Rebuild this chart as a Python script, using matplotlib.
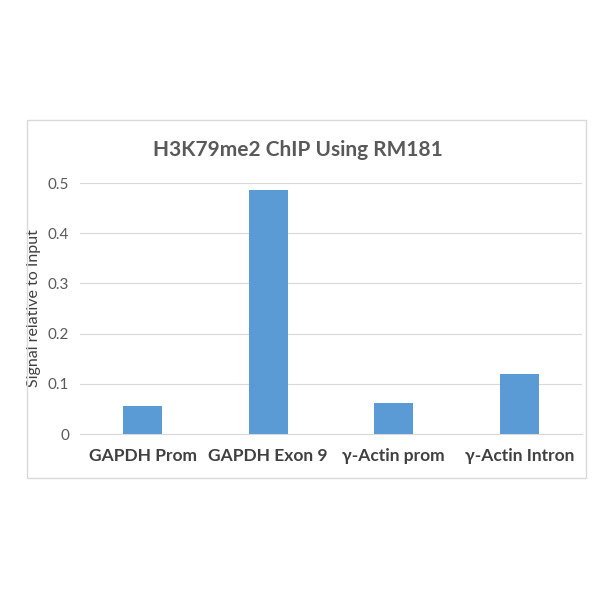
import matplotlib
matplotlib.use("Agg")
import matplotlib.pyplot as plt
from matplotlib.patches import Rectangle

categories = ["GAPDH Prom", "GAPDH Exon 9", "γ-Actin prom", "γ-Actin Intron"]
values = [0.056, 0.487, 0.062, 0.120]
yticks = [0, 0.1, 0.2, 0.3, 0.4, 0.5]
ytick_labels = ["0", "0.1", "0.2", "0.3", "0.4", "0.5"]

plt.rcParams['font.family'] = ['Lato', 'DejaVu Sans']

fig = plt.figure(figsize=(6, 6), dpi=100)
fig.patch.set_facecolor('white')

# outer chart frame
frame = Rectangle((27 / 600, 1 - 478 / 600), (586 - 27) / 600, (478 - 120) / 600,
                  transform=fig.transFigure, fill=False, edgecolor='#D9D9D9', linewidth=1.0)
fig.patches.append(frame)

ax = fig.add_axes([80 / 600, 1 - 434 / 600, (582 - 80) / 600, (434 - 183) / 600])
x = range(len(categories))
ax.bar(x, values, width=0.31, color='#5B9BD5', zorder=3)

ax.set_xlim(-0.5, len(categories) - 0.5)
ax.set_ylim(0, 0.5)
ax.set_yticks(yticks)
ax.set_yticklabels(ytick_labels, fontsize=11, color='#595959')
ax.set_xticks(list(x))
ax.set_xticklabels(categories, fontsize=12.5, fontweight='bold', color='#404040')
ax.tick_params(axis='both', length=0)
ax.tick_params(axis='y', pad=8)
ax.tick_params(axis='x', pad=10)
ax.grid(axis='y', color='#D9D9D9', linewidth=0.8, zorder=0)
for s in ['top', 'right', 'left']:
    ax.spines[s].set_visible(False)
ax.spines['bottom'].set_color('#D9D9D9')

ax.set_ylabel('Signal relative to Input', fontsize=11.5, color='#404040', labelpad=5)
fig.text(298 / 600, 1 - 150 / 600, 'H3K79me2 ChIP Using RM181',
         ha='center', va='center', fontsize=15, fontweight='bold', color='#595959')

fig.savefig('out.png', dpi=100)
